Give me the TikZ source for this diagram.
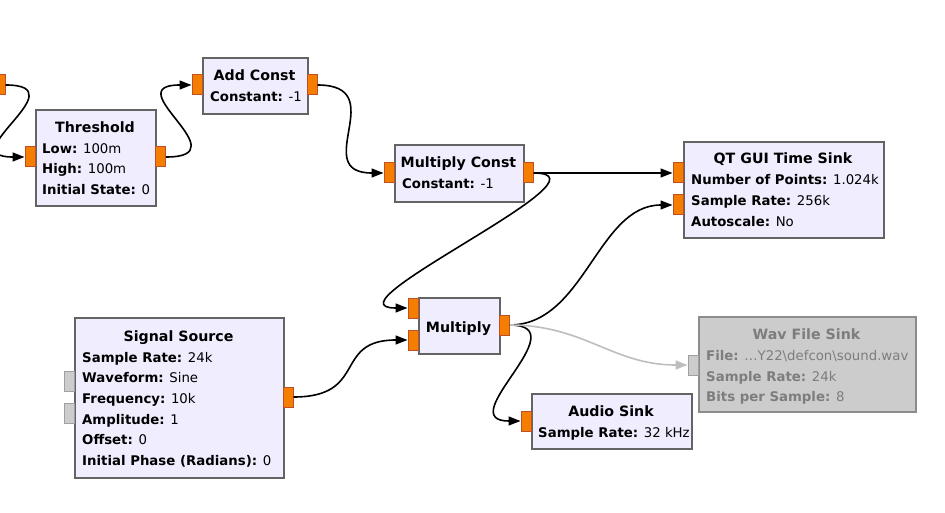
\documentclass[tikz,border=0pt]{standalone}
\usepackage{fontspec}
\setmainfont{DejaVu Sans}
\usetikzlibrary{arrows.meta}
\definecolor{blockfill}{RGB}{240,237,254}
\definecolor{blockdraw}{RGB}{100,100,100}
\definecolor{portfill}{RGB}{245,125,0}
\definecolor{portdraw}{RGB}{190,80,40}
\definecolor{disfill}{RGB}{204,204,204}
\definecolor{disdraw}{RGB}{140,140,140}
\definecolor{distext}{RGB}{125,125,125}
\definecolor{disport}{RGB}{160,160,160}
\definecolor{disconncol}{RGB}{190,190,190}
\newcommand\myrowfont{\fontsize{13.3}{16}\selectfont}
\newcommand\mytitlefont{\fontsize{14.2}{17}\selectfont\bfseries}
\tikzset{
 blk/.style={draw=blockdraw, fill=blockfill, line width=1.8pt, inner sep=0pt, anchor=north west},
 disblk/.style={blk, draw=disdraw, fill=disfill},
 prt/.style={draw=portdraw, fill=portfill, line width=1pt, inner sep=0pt, minimum width=10pt, minimum height=20pt},
 disprt/.style={prt, draw=disport, fill=disfill},
 ttl/.style={anchor=base, inner sep=0pt, font=\mytitlefont},
 row/.style={anchor=base west, inner sep=0pt, font=\myrowfont},
 conn/.style={line width=1.6pt, -{Triangle[length=12pt,width=9pt]}},
 disconn/.style={conn, draw=disconncol, color=disconncol},
}
\begin{document}
\begin{tikzpicture}[x=1pt,y=-1pt]
\useasboundingbox (0,0) rectangle (945,513);
\fill[white] (0,0) rectangle (945,513);

% ---- blocks ----
\node[blk, minimum width=120pt, minimum height=96pt] (thr) at (35,109) {};
\node[blk, minimum width=105pt, minimum height=56pt] (add) at (202,57) {};
\node[blk, minimum width=129pt, minimum height=57pt] (mc) at (394,144) {};
\node[blk, minimum width=200pt, minimum height=96pt] (qt) at (683,141) {};
\node[blk, minimum width=209pt, minimum height=160pt] (sig) at (74,317) {};
\node[blk, minimum width=81pt, minimum height=56pt] (mul) at (418,297) {};
\node[blk, minimum width=160pt, minimum height=55pt] (aud) at (531,393) {};
\node[disblk, minimum width=217pt, minimum height=95pt] (wav) at (698,316) {};

% ---- ports ----
\node[prt] (offp) at (0,85) {};
\node[prt] (thrin) at (30,157) {};
\node[prt] (throut) at (160.5,157) {};
\node[prt] (addin) at (197,85) {};
\node[prt] (addout) at (312,85) {};
\node[prt] (mcin) at (389,173) {};
\node[prt] (mcout) at (528,173) {};
\node[prt] (qtin1) at (678,173) {};
\node[prt] (qtin2) at (678,205) {};
\node[prt] (sigout) at (288,397) {};
\node[disprt] (sigin1) at (69,381) {};
\node[disprt] (sigin2) at (69,413) {};
\node[prt] (mulin1) at (413,308) {};
\node[prt] (mulin2) at (413,340) {};
\node[prt] (mulout) at (504,325) {};
\node[prt] (audin) at (526,421) {};
\node[disprt] (wavin) at (693,365) {};

% ---- texts ----
\node[ttl] (thrt) at (95,132.5) {Threshold};
\node[row] (thr1) at (42,153.5) {\textbf{Low:} 100m};
\node[row] (thr2) at (42,174) {\textbf{High:} 100m};
\node[row] (thr3) at (42,194.5) {\textbf{Initial State:} 0};

\node[ttl] (addt) at (254.5,80.5) {Add Const};
\node[row] (add1) at (210,101.5) {\textbf{Constant:} -1};

\node[ttl] (mct) at (458.5,168) {Multiply Const};
\node[row] (mc1) at (402,189) {\textbf{Constant:} -1};

\node[ttl] (qtt) at (783,164) {QT GUI Time Sink};
\node[row] (qt1) at (691,185) {\textbf{Number of Points:} 1.024k};
\node[row] (qt2) at (691,205.7) {\textbf{Sample Rate:} 256k};
\node[row] (qt3) at (691,226.4) {\textbf{Autoscale:} No};

\node[ttl] (sigt) at (178.5,341) {Signal Source};
\node[row] (sig1) at (82,362) {\textbf{Sample Rate:} 24k};
\node[row] (sig2) at (82,382.7) {\textbf{Waveform:} Sine};
\node[row] (sig3) at (82,403.4) {\textbf{Frequency:} 10k};
\node[row] (sig4) at (82,424.1) {\textbf{Amplitude:} 1};
\node[row] (sig5) at (82,444.8) {\textbf{Offset:} 0};
\node[row] (sig6) at (82,465.5) {\textbf{Initial Phase (Radians):} 0};

\node[ttl] (mult) at (458.5,332.5) {Multiply};

\node[ttl] (audt) at (611,416.5) {Audio Sink};
\node[row] (aud1) at (538,437.5) {\textbf{Sample Rate:} 32 kHz};

\node[ttl, text=distext] (wavt) at (806.5,339.5) {Wav File Sink};
\node[row, text=distext] (wav1) at (706,360.5) {\textbf{File:} …Y22\textbackslash defcon\textbackslash sound.wav};
\node[row, text=distext] (wav2) at (706,381.2) {\textbf{Sample Rate:} 24k};
\node[row, text=distext] (wav3) at (706,401.9) {\textbf{Bits per Sample:} 8};

% ---- connectors ----
\draw[conn] (offp.east) .. controls +(74,0) and +(-74,0) .. (thrin.west);
\draw[conn] (throut.east) .. controls +(76,0) and +(-76,0) .. (addin.west);
\draw[conn] (addout.east) .. controls +(75,0) and +(-75,0) .. (mcin.west);
\draw[conn] (mcout.east) -- (qtin1.west);
\draw[conn] (mcout.east) .. controls +(88,0) and +(-88,0) .. (mulin1.west);
\draw[conn] (sigout.east) .. controls +(75,0) and +(-75,0) .. (mulin2.west);
\draw[conn] (mulout.east) .. controls +(75,0) and +(-75,0) .. (qtin2.west);
\draw[conn] (mulout.east) .. controls +(70,0) and +(-70,0) .. (audin.west);
\draw[disconn] (mulout.east) .. controls +(75,0) and +(-75,0) .. (wavin.west);
\end{tikzpicture}
\end{document}
